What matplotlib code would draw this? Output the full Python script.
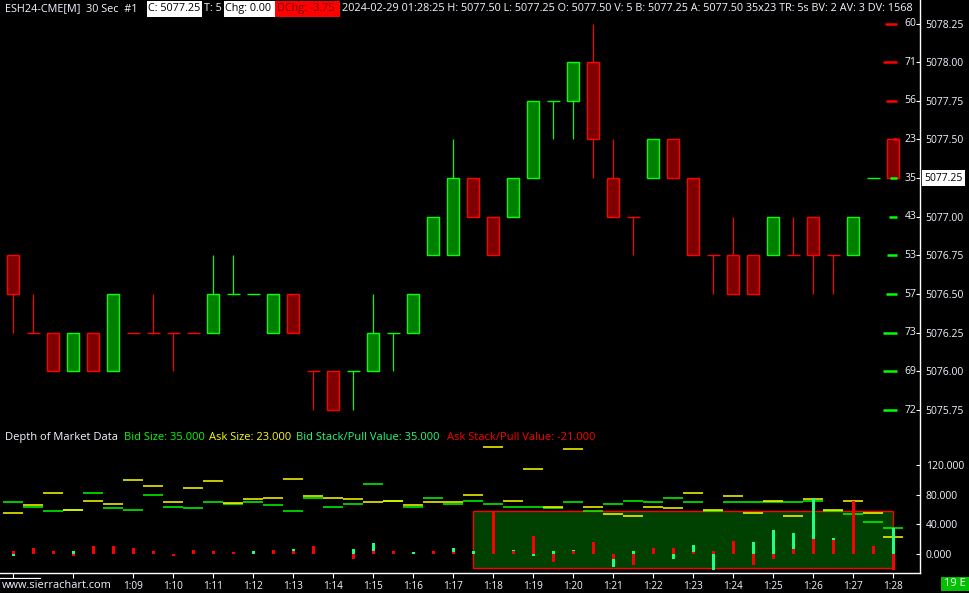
import matplotlib
matplotlib.use("Agg")
import matplotlib.pyplot as plt
from matplotlib.patches import Rectangle
from matplotlib.lines import Line2D
from matplotlib.transforms import blended_transform_factory
from datetime import datetime, timedelta

FONT = "Open Sans"
plt.rcParams["font.family"] = [FONT, "DejaVu Sans"]

W, H = 970, 593

# ---- chart data -------------------------------------------------------
symbol = "ESH24-CME[M]"
interval_label = "30 Sec"
first_bar = datetime(2024, 2, 29, 1, 6, 0)
bar_seconds = 30

opens = [5076.75, 5076.25, 5076.25, 5076.00, 5076.25, 5076.00, 5076.25, 5076.25, 5076.25, 5076.25,
         5076.25, 5076.50, 5076.50, 5076.25, 5076.50, 5076.00, 5076.00, 5076.00, 5076.00, 5076.25,
         5076.25, 5076.75, 5076.75, 5077.25, 5077.00, 5077.00, 5077.25, 5077.75, 5077.75, 5078.00,
         5077.25, 5077.00, 5077.25, 5077.50, 5077.25, 5076.75, 5076.75, 5076.75, 5076.75, 5076.75,
         5077.00, 5076.75, 5076.75, 5077.25, 5077.50]
highs = [5076.75, 5076.50, 5076.25, 5076.25, 5076.25, 5076.50, 5076.25, 5076.50, 5076.25, 5076.25,
         5076.75, 5076.75, 5076.50, 5076.50, 5076.50, 5076.00, 5076.00, 5076.00, 5076.50, 5076.25,
         5076.50, 5077.00, 5077.50, 5077.25, 5077.00, 5077.25, 5077.75, 5077.75, 5078.00, 5078.25,
         5077.50, 5077.00, 5077.50, 5077.50, 5077.25, 5076.75, 5077.00, 5076.75, 5077.00, 5077.00,
         5077.00, 5076.75, 5077.00, 5077.25, 5077.50]
lows = [5076.25, 5076.25, 5076.00, 5076.00, 5076.00, 5076.00, 5076.25, 5076.25, 5076.00, 5076.25,
        5076.25, 5076.50, 5076.50, 5076.25, 5076.25, 5075.75, 5075.75, 5075.75, 5076.00, 5076.00,
        5076.25, 5076.75, 5076.75, 5077.00, 5076.75, 5077.00, 5077.25, 5077.50, 5077.50, 5077.25,
        5077.00, 5076.75, 5077.25, 5077.25, 5076.75, 5076.50, 5076.50, 5076.50, 5076.75, 5076.75,
        5076.50, 5076.50, 5076.75, 5077.25, 5077.25]
closes = [5076.50, 5076.25, 5076.00, 5076.25, 5076.00, 5076.50, 5076.25, 5076.25, 5076.25, 5076.25,
          5076.50, 5076.50, 5076.50, 5076.50, 5076.25, 5076.00, 5075.75, 5076.00, 5076.25, 5076.25,
          5076.50, 5077.00, 5077.25, 5077.00, 5076.75, 5077.25, 5077.75, 5077.75, 5078.00, 5077.50,
          5077.00, 5077.00, 5077.50, 5077.25, 5076.75, 5076.75, 5076.50, 5076.50, 5077.00, 5076.75,
          5076.75, 5076.75, 5077.00, 5077.25, 5077.25]

# current depth ladder
best_bid, best_ask = 5077.25, 5077.50
ladder_prices = [5078.25, 5078.00, 5077.75, 5077.50, 5077.25, 5077.00,
                 5076.75, 5076.50, 5076.25, 5076.00, 5075.75]
ladder_sizes = [60, 71, 56, 23, 35, 43, 53, 57, 73, 69, 72]

# depth of market study, one value per bar
bid_size = [70, 64, 58, 60, 82, 62, 59, 79, 63, 62, 70, 68, 70, 66, 58, 76, 63, 68, 94, 71,
            63, 75, 67, 71, 68, 64, 63, 62, 70, 58, 68, 72, 70, 75, 70, 58, 70, 70, 70, 70,
            72, 58, 54, 43, 35]
ask_size = [55, 66, 82, 60, 72, 68, 100, 91, 70, 89, 99, 69, 74, 75, 101, 78, 75, 74, 70, 72,
            66, 70, 70, 80, 144, 72, 115, 64, 141, 64, 54, 51, 64, 62, 82, 59, 78, 55, 72, 52,
            74, 60, 71, 56, 23]
bid_stack = [-2, 0, 0, 4, 0, 0, 0, 0, 0, 0, 0, 0, 4, 0, 7, 0, 0, 7, 15, 0,
             3, 0, 8, 4, 0, 6, -2, 4, 6, 0, -17, 4, 0, -6, 12, -21, 0, 17, 33, 29,
             75, 22, 0, 0, 35]
ask_stack = [4, 8, 4, -2, 11, 11, 8, 4, -2, 6, 4, 3, 0, 6, 4, 11, 0, -6, 4, 4,
             0, 4, 3, 0, 58, 4, 25, -11, 4, 17, -6, -14, 8, 8, 3, 4, 18, -15, -6, 7,
             21, 19, 72, 11, -21]

# highlighted region of the study (bar range and value range)
zone_bars = (23, 44)
zone_values = (-18.8, 58.6)

price_ticks = [5075.75, 5076.00, 5076.25, 5076.50, 5076.75, 5077.00,
               5077.25, 5077.50, 5077.75, 5078.00, 5078.25]
dom_ticks = [0, 40, 80, 120]

last_time = "2024-02-29 01:28:25"
trade_count, volume, day_change = 5, 5, -3.75
bid_vol, ask_vol, day_volume = 2, 3, 1568

# ---- colours ----------------------------------------------------------
UP_FILL, UP_EDGE = "#008000", "#00ff00"
DN_FILL, DN_EDGE = "#800000", "#ff0000"
BID_LINE, ASK_LINE = "#00ff00", "#ffff00"
BID_STACK, ASK_STACK = "#20ff80", "#ff0000"
TXT = "#f4f6ff"

fig = plt.figure(figsize=(W / 100, H / 100), dpi=100, facecolor="black")
renderer = fig.canvas.get_renderer()


def fx(px):
    return px / W


def fy(py):
    return 1 - py / H


def size_for(s, px):
    t = fig.text(0, 0, s, fontsize=10)
    w = t.get_window_extent(renderer).width
    t.remove()
    return 10 * px / w


n = len(closes)
xs = list(range(n))
XLIM = (-0.665, 45.335)

ax = fig.add_axes([0, fy(425), 920 / W, (425 - 15) / H], facecolor="black")
ax.set_xlim(*XLIM)
ax.set_ylim(5075.653, 5078.305)
dom = fig.add_axes([0, fy(573), 920 / W, (573 - 428) / H], facecolor="black")
dom.set_xlim(*XLIM)
dom.set_ylim(-25.1, 169.5)
for a in (ax, dom):
    for sp in a.spines.values():
        sp.set_visible(False)

axis_fs = size_for("5078.25", 38.5)

# ---- candles ----------------------------------------------------------
colors = []
prev_up = True
for i in range(n):
    o, c = opens[i], closes[i]
    if c > o:
        up = True
    elif c < o:
        up = False
    elif i > 0 and c > closes[i - 1]:
        up = True
    elif i > 0 and c < closes[i - 1]:
        up = False
    else:
        up = prev_up
    prev_up = up
    colors.append(up)

for i in range(n):
    edge = UP_EDGE if colors[i] else DN_EDGE
    fill = UP_FILL if colors[i] else DN_FILL
    if highs[i] > lows[i]:
        ax.vlines(i, lows[i], highs[i], colors=edge, lw=0.9, zorder=2)
    if opens[i] != closes[i]:
        ax.bar(i, closes[i] - opens[i], bottom=opens[i], width=0.6,
               color=fill, edgecolor=edge, linewidth=1.0, zorder=3)
    else:
        ax.hlines(opens[i], i - 0.32, i + 0.32, colors=edge, lw=1.0, zorder=3)

# depth ladder at the right edge
ladder_right = 44.2
blend = blended_transform_factory(ax.transAxes, ax.transData)
for p, s in zip(ladder_prices, ladder_sizes):
    col = DN_EDGE if p >= best_ask else UP_EDGE
    ax.hlines(p, ladder_right - 0.01 * s, ladder_right, colors=col, lw=1.8, zorder=4)
    ax.text(916.5 / 920, p, str(s), transform=blend, ha="right", va="center",
            color=TXT, fontsize=axis_fs, zorder=5)

ax.set_xticks([])
ax.yaxis.tick_right()
ax.set_yticks(price_ticks)
ax.set_yticklabels([f"{p:.2f}" for p in price_ticks])
ax.tick_params(axis="y", direction="in", length=3, width=0.8, color="white",
               labelcolor=TXT, labelsize=axis_fs, pad=4)
ax.text(1.0 + 4.6 / 920, closes[-1], f"{closes[-1]:.2f}", transform=blend, ha="left",
        va="center", color="black", fontsize=axis_fs, zorder=6, clip_on=False,
        bbox=dict(boxstyle="square,pad=0.22", fc="white", ec="none"))

# ---- depth of market study -------------------------------------------
dom.add_patch(Rectangle((zone_bars[0], zone_values[0]), zone_bars[1] - zone_bars[0],
                        zone_values[1] - zone_values[0], fc="#004000", ec="#ff0000",
                        lw=1.0, zorder=1))
for i in range(n):
    dom.hlines(bid_size[i], i - 0.5, i + 0.5, colors=BID_LINE, lw=1.1, zorder=2)
    dom.hlines(ask_size[i], i - 0.5, i + 0.5, colors=ASK_LINE, lw=1.1, zorder=2)
dom.bar(xs, bid_stack, width=0.13, color=BID_STACK, linewidth=0, zorder=3)
dom.bar(xs, ask_stack, width=0.13, color=ASK_STACK, linewidth=0, zorder=4)

dom.yaxis.tick_right()
dom.set_yticks(dom_ticks)
dom.set_yticklabels([f"{v:.3f}" for v in dom_ticks])
dom.tick_params(axis="y", direction="in", length=3, width=0.8, color="white",
                labelcolor=TXT, labelsize=axis_fs, pad=4)

bar_times = [first_bar + timedelta(seconds=bar_seconds * i) for i in range(n)]
tick_pos = [0, 3]
tick_lab = ["", ""]
for i, t in enumerate(bar_times):
    if i >= 6 and t.second == 0:
        tick_pos.append(i)
        tick_lab.append(f"{t.hour}:{t.minute:02d}")
dom.set_xticks(tick_pos)
dom.set_xticklabels(tick_lab)
x_fs = size_for("1:09", 20)
dom.tick_params(axis="x", direction="out", length=3.6, width=0.8, color="white",
                labelcolor=TXT, labelsize=x_fs, pad=2)

# frame lines
fig.add_artist(Line2D([fx(920), fx(920)], [fy(0), fy(573)], color="white", lw=1.0))
fig.add_artist(Line2D([fx(0), fx(920)], [fy(573), fy(573)], color="white", lw=1.0))
fig.add_artist(Line2D([fx(0), fx(40)], [fy(577.5), fy(577.5)], color="white", lw=0.9))

fig.text(fx(2), fy(585.5), "www.sierrachart.com", color=TXT, ha="left", va="center",
         fontsize=size_for("www.sierrachart.com", 109), zorder=10,
         bbox=dict(boxstyle="square,pad=0.1", fc="black", ec="none"))

# ---- DOM header -------------------------------------------------------
dom_labels = [
    (5, "Depth of Market Data", TXT),
    (124, f"Bid Size: {bid_size[-1]:.3f}", BID_LINE),
    (209, f"Ask Size: {ask_size[-1]:.3f}", ASK_LINE),
    (296, f"Bid Stack/Pull Value: {bid_stack[-1]:.3f}", BID_STACK),
    (447, f"Ask Stack/Pull Value: {ask_stack[-1]:.3f}", ASK_STACK),
]
dom_fs = size_for(dom_labels[3][1], 143)
for x0, s, c in dom_labels:
    fig.text(fx(x0), fy(437.5), s, color=c, ha="left", va="center", fontsize=dom_fs)

# ---- chart header -----------------------------------------------------
rest = (f"{last_time} H: {highs[-1]:.2f} L: {lows[-1]:.2f} O: {opens[-1]:.2f} "
        f"V: {volume} B: {best_bid:.2f} A: {best_ask:.2f} "
        f"{ladder_sizes[ladder_prices.index(best_bid)]}x{ladder_sizes[ladder_prices.index(best_ask)]} "
        f"TR: 5s BV: {bid_vol} AV: {ask_vol} DV: {day_volume}")
head_fs = size_for(rest, 576)
boxes = [
    (146.7, 201.7, "white"),
    (224.0, 275.0, "white"),
    (275.3, 340.0, "#ff0000"),
]
for x0, x1, c in boxes:
    fig.add_artist(Rectangle((fx(x0), fy(17)), (x1 - x0) / W, 16.5 / H,
                             transform=fig.transFigure, fc=c, ec="none"))
head = [
    (5, f"{symbol}  {interval_label}  #1", TXT),
    (148, f"C: {closes[-1]:.2f}", "black"),
    (204, f"T: {trade_count}", TXT),
    (225.5, f"Chg: {closes[-1] - closes[-1]:.2f}", "black"),
    (277, f"DChg: {day_change:.2f}", "#7a0000"),
    (341.7, rest, TXT),
]
for x0, s, c in head:
    fig.text(fx(x0), fy(8.8), s, color=c, ha="left", va="center", fontsize=head_fs)

# badge in the lower right corner
fig.add_artist(Rectangle((fx(940.7), fy(591)), 28.3 / W, 14.3 / H,
                         transform=fig.transFigure, fc="#00c000", ec="none"))
fig.text(fx(955), fy(584), "19 E", color="white", ha="center", va="center",
         fontsize=size_for("19 E", 22))

fig.savefig("out.png", dpi=100, facecolor="black")
